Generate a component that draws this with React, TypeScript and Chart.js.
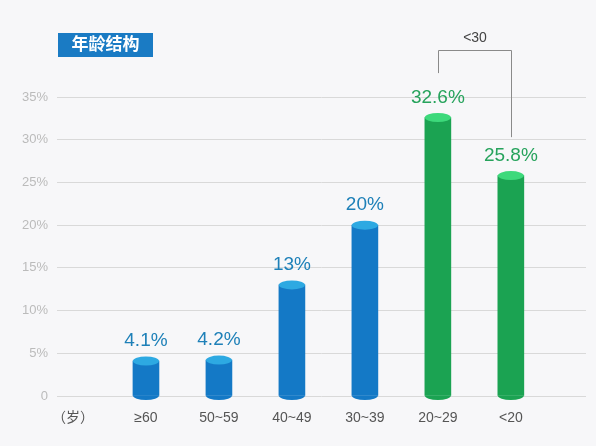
import React, { useEffect, useRef } from "react";
import { Chart, registerables } from "chart.js";

Chart.register(...registerables);

const categories = ["（岁）", "≥60", "50~59", "40~49", "30~39", "20~29", "<20"];
const values = [null, 4.1, 4.2, 13, 20, 32.6, 25.8];
const valueLabels = ["", "4.1%", "4.2%", "13%", "20%", "32.6%", "25.8%"];
const groups = ["", "blue", "blue", "blue", "blue", "green", "green"];
const yTicks = [0, 5, 10, 15, 20, 25, 30, 35];
const title = "年龄结构";
const bracketLabel = "<30";
// bracket in value units: top, left end, right end
const bracketValues = [40.5, 37.8, 30.3];

const FONT = '"Liberation Sans", Arial, "Noto Sans CJK SC", sans-serif';
const COLORS: Record<string, { body: string; top: string; text: string }> = {
  blue: { body: "#1479C6", top: "#2DA9E2", text: "#1E80B8" },
  green: { body: "#1BA352", top: "#3DD97B", text: "#26A35C" },
};

const points = values
  .map((v, i) => ({ x: i, y: v }))
  .filter((d) => d.y != null) as { x: number; y: number }[];

const cylinderPlugin = {
  id: "cylinder",
  beforeDraw(chart: any) {
    const { ctx, width, height } = chart;
    ctx.save();
    ctx.fillStyle = "#F7F7F9";
    ctx.fillRect(0, 0, width, height);
    ctx.restore();
  },
  afterDatasetsDraw(chart: any) {
    const { ctx } = chart;
    const meta = chart.getDatasetMeta(0);
    ctx.save();
    meta.data.forEach((bar: any, j: number) => {
      const i = points[j].x;
      const g = groups[i];
      if (!g) return;
      const c = COLORS[g];
      const rx = bar.width / 2;
      ctx.fillStyle = c.body;
      ctx.beginPath();
      ctx.ellipse(bar.x, bar.base, rx, 4.5, 0, 0, Math.PI);
      ctx.fill();
      ctx.fillStyle = c.top;
      ctx.beginPath();
      ctx.ellipse(bar.x, bar.y, rx, 4.5, 0, 0, Math.PI * 2);
      ctx.fill();
      ctx.fillStyle = c.text;
      ctx.font = `19px ${FONT}`;
      ctx.textAlign = "center";
      ctx.textBaseline = "middle";
      ctx.fillText(valueLabels[i], bar.x, bar.y - 20);
    });

    const xs = chart.scales.x;
    const ys = chart.scales.y;
    ctx.fillStyle = "#1A7BC4";
    ctx.fillRect(58, 33, 95, 24);
    ctx.fillStyle = "#FFFFFF";
    ctx.font = `bold 17px ${FONT}`;
    ctx.textAlign = "center";
    ctx.textBaseline = "middle";
    ctx.fillText(title, 58 + 47.5, 45.5);

    const x1 = Math.round(xs.getPixelForValue(5)) + 0.5;
    const x2 = Math.round(xs.getPixelForValue(6)) + 0.5;
    const yTop = Math.round(ys.getPixelForValue(bracketValues[0])) + 0.5;
    ctx.strokeStyle = "#8A8A8A";
    ctx.lineWidth = 1;
    ctx.beginPath();
    ctx.moveTo(x1, ys.getPixelForValue(bracketValues[1]));
    ctx.lineTo(x1, yTop);
    ctx.lineTo(x2, yTop);
    ctx.lineTo(x2, ys.getPixelForValue(bracketValues[2]));
    ctx.stroke();
    ctx.fillStyle = "#444444";
    ctx.font = `14px ${FONT}`;
    ctx.fillText(bracketLabel, (x1 + x2) / 2, yTop - 12);
    ctx.restore();
  },
};

export default function App() {
  const ref = useRef<HTMLCanvasElement | null>(null);
  useEffect(() => {
    if (!ref.current) return;
    const chart = new Chart(ref.current, {
      type: "bar",
      data: {
        datasets: [
          {
            data: points as any,
            barThickness: 26,
            backgroundColor: points.map((d) => COLORS[groups[d.x]].body),
            borderWidth: 0,
          },
        ],
      },
      options: {
        animation: false,
        responsive: false,
        layout: { padding: { top: 97, right: 10, left: 0, bottom: 0 } },
        plugins: { legend: { display: false }, tooltip: { enabled: false } },
        scales: {
          x: {
            type: "linear",
            offset: false,
            min: -0.219,
            max: 7.03,
            grid: { display: false },
            border: { display: false },
            afterBuildTicks: (scale: any) => {
              scale.ticks = categories.map((_, i) => ({ value: i }));
            },
            afterFit: (scale: any) => {
              scale.height = 50;
            },
            ticks: {
              autoSkip: false,
              maxRotation: 0,
              padding: 6,
              color: "#555555",
              font: { size: 14, family: FONT },
              callback: (v: any) => categories[v] ?? "",
            },
          },
          y: {
            min: 0,
            max: 35,
            afterBuildTicks: (scale: any) => {
              scale.ticks = yTicks.map((v) => ({ value: v }));
            },
            afterFit: (scale: any) => {
              scale.width = 57;
            },
            grid: { color: "#D9D9D9", drawTicks: false },
            border: { display: false },
            ticks: {
              padding: 9,
              color: "#BBBBBB",
              font: { size: 13, family: FONT },
              callback: (v: any) => (v === 0 ? "0" : v + "%"),
            },
          },
        },
      },
      plugins: [cylinderPlugin],
    });
    return () => chart.destroy();
  }, []);
  return (
    <div style={{ position: "absolute", left: 0, top: 0, width: 596, height: 446 }}>
      <canvas ref={ref} width={596} height={446} style={{ display: "block" }} />
    </div>
  );
}
